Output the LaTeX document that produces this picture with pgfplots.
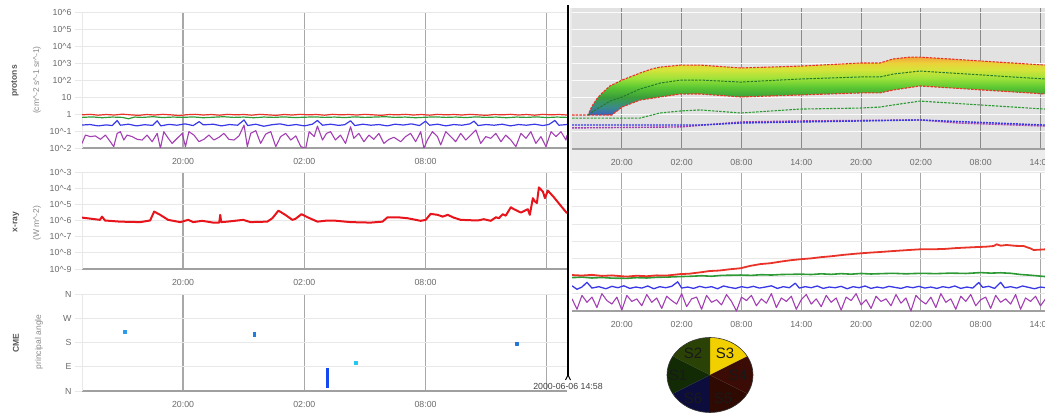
\documentclass[border=0pt]{standalone}
\usepackage{pgfplots}
\pgfplotsset{compat=1.18}
\usepackage{fontspec}
\setmainfont{Liberation Sans}
\definecolor{tickgray}{HTML}{6A6A6A}
\definecolor{titlegray}{HTML}{555555}
\definecolor{unitgray}{HTML}{8A8A8A}
\definecolor{axgray}{HTML}{A0A0A0}
\definecolor{vgrid}{HTML}{A8A8A8}
\definecolor{vgriddark}{HTML}{8A8A8A}
\definecolor{gridlight}{HTML}{E8E8E8}
\definecolor{bgouter}{HTML}{ECECEC}
\definecolor{bgplot}{HTML}{E2E2E2}
\definecolor{pred}{HTML}{EA3328}
\definecolor{pgreen}{HTML}{2E9A35}
\definecolor{pblue}{HTML}{3838E6}
\definecolor{ppurple}{HTML}{A23FB2}
\definecolor{xred}{HTML}{E8141C}
\definecolor{cmeA}{HTML}{2A9BEA}
\definecolor{cmeB}{HTML}{1E7FE0}
\definecolor{cmeC}{HTML}{1448F0}
\definecolor{cmeD}{HTML}{22C8F0}
\definecolor{cmeE}{HTML}{2378D2}
\definecolor{fc1}{HTML}{3A5FC0}
\definecolor{fc2}{HTML}{3A8A8A}
\definecolor{fc3}{HTML}{3A9E3A}
\definecolor{fc4}{HTML}{5CC832}
\definecolor{fc5}{HTML}{9EE23A}
\definecolor{fc6}{HTML}{D4E43A}
\definecolor{fc7}{HTML}{ECD23A}
\definecolor{fc8}{HTML}{F2A43A}
\definecolor{pieS1}{HTML}{122B05}
\definecolor{pieS2}{HTML}{2B4207}
\definecolor{pieS3}{HTML}{F2D000}
\definecolor{pieS4}{HTML}{3B0B05}
\definecolor{pieS5}{HTML}{2E0A02}
\definecolor{pieS6}{HTML}{0D0D3D}
\pgfdeclareverticalshading{protflux}{100bp}{color(0bp)=(fc1); color(25bp)=(fc1); color(31.7bp)=(fc2); color(40.5bp)=(fc3); color(49.3bp)=(fc4); color(56.7bp)=(fc5); color(64bp)=(fc6); color(69.9bp)=(fc7); color(75bp)=(fc8); color(100bp)=(fc8)}
\pgfplotsset{
  dash/.style={
    scale only axis,
    axis x line*=bottom, axis y line*=left,
    x axis line style={-, draw=axgray, line width=1.2pt},
    y axis line style={-, draw=gridlight},
    xmajorgrids, ymajorgrids,
    x grid style={draw=vgrid, line width=1.1pt},
    y grid style={draw=gridlight, line width=0.8pt},
    tick align=outside,
    xtick style={draw=none},
    ytick style={draw=gridlight, line width=0.8pt},
    major tick length=7pt,
    tick label style={font=\fontsize{8.8}{10}\selectfont, text=tickgray},
    every axis plot/.append style={line join=round},
  },
  leftx/.style={xmin=0, xmax=24, width=485pt, xtick={5,11,17,23}, xticklabels={20:00,02:00,08:00,{}}},
  rightx/.style={xmin=0, xmax=47.45, width=473pt, xtick={5,11,17,23,29,35,41,47},
    xticklabels={20:00,02:00,08:00,14:00,20:00,02:00,08:00,14:00},
    ytick={-2,...,6}, yticklabels={}, ytick style={draw=none}, y axis line style={draw=none}},
}
\newcommand{\cc}{\textasciicircum}
\begin{document}
\begin{tikzpicture}
\useasboundingbox (0,0) rectangle (1045pt,413pt);
\fill[bgouter] (570pt,242pt) rectangle (1045pt,405pt);

% ---------------- protons (left)
\begin{axis}[dash, leftx, at={(82pt,265pt)}, anchor=south west, height=136pt,
  ymin=-2, ymax=6, ytick={-2,...,6},
  yticklabels={10\cc-2,10\cc-1,1,10,10\cc2,10\cc3,10\cc4,10\cc5,10\cc6}]
\addplot[pred, line width=1.2pt] coordinates {(0,-0.05)(0.4,-0.02)(0.8,-0.07)(1.2,-0.03)(1.6,-0.06)(2,-0.01)(2.4,-0.05)(2.8,-0.08)(3.2,-0.03)(3.6,-0.06)(4,-0.02)(4.4,-0.05)(4.8,-0.09)(5.2,-0.04)(5.6,-0.02)(6,-0.06)(6.4,-0.03)(6.8,-0.07)(7.2,-0.02)(7.6,-0.05)(8,-0.03)(8.4,-0.07)(8.8,-0.02)(9.2,-0.05)(9.6,-0.08)(10,-0.03)(10.4,-0.06)(10.8,-0.02)(11.2,-0.05)(11.6,-0.03)(12,-0.07)(12.4,-0.02)(12.8,-0.05)(13.2,-0.03)(13.6,-0.06)(14,-0.02)(14.4,-0.05)(14.8,-0.08)(15.2,-0.03)(15.6,-0.05)(16,-0.02)(16.4,-0.06)(16.8,-0.03)(17.2,-0.07)(17.6,-0.02)(18,-0.05)(18.4,-0.03)(18.8,-0.06)(19.2,-0.02)(19.6,-0.05)(20,-0.08)(20.4,-0.03)(20.8,-0.05)(21.2,-0.02)(21.6,-0.06)(22,-0.03)(22.4,-0.07)(22.8,-0.02)(23.2,-0.05)(23.6,-0.03)(24,-0.06)};
\addplot[pgreen, line width=1.2pt] coordinates {(0,-0.2)(0.5,-0.17)(1,-0.22)(1.5,-0.18)(2,-0.2)(2.3,-0.28)(2.6,-0.18)(3,-0.2)(3.5,-0.16)(4,-0.21)(4.5,-0.18)(5,-0.2)(5.5,-0.17)(6,-0.22)(6.5,-0.19)(7,-0.16)(7.5,-0.2)(8,-0.18)(8.5,-0.22)(9,-0.18)(9.5,-0.2)(10,-0.17)(10.5,-0.21)(11,-0.19)(11.5,-0.17)(12,-0.2)(12.5,-0.18)(13,-0.21)(13.5,-0.17)(14,-0.2)(14.5,-0.18)(15,-0.16)(15.5,-0.2)(16,-0.18)(16.5,-0.22)(17,-0.19)(17.5,-0.17)(18,-0.2)(18.5,-0.18)(19,-0.21)(19.5,-0.17)(20,-0.2)(20.5,-0.18)(21,-0.22)(21.5,-0.18)(22,-0.2)(22.5,-0.17)(23,-0.21)(23.5,-0.18)(24,-0.2)};
\addplot[pblue, line width=1.2pt] coordinates {(0,-0.65)(0.4,-0.62)(0.8,-0.7)(1.2,-0.64)(1.5,-0.68)(1.74,-0.38)(1.9,-0.66)(2.3,-0.6)(2.7,-0.7)(3.1,-0.63)(3.5,-0.67)(3.72,-0.4)(3.9,-0.7)(4.3,-0.61)(4.7,-0.66)(5.1,-0.58)(5.5,-0.68)(5.8,-0.45)(6.0,-0.64)(6.5,-0.6)(6.9,-0.7)(7.3,-0.62)(7.7,-0.66)(8.02,-0.35)(8.2,-0.68)(8.6,-0.6)(9.0,-0.72)(9.4,-0.63)(9.8,-0.58)(10.2,-0.68)(10.6,-0.62)(11.0,-0.7)(11.4,-0.6)(11.65,-0.38)(11.9,-0.66)(12.3,-0.6)(12.7,-0.67)(13.0,-0.63)(13.29,-0.4)(13.5,-0.68)(13.9,-0.6)(14.3,-0.66)(14.7,-0.62)(15.1,-0.7)(15.5,-0.6)(15.9,-0.65)(16.3,-0.58)(16.7,-0.68)(17.0,-0.42)(17.2,-0.66)(17.6,-0.6)(18.0,-0.7)(18.4,-0.62)(18.8,-0.66)(19.2,-0.58)(19.4,-0.42)(19.6,-0.68)(20.0,-0.62)(20.4,-0.66)(20.8,-0.6)(21.2,-0.7)(21.6,-0.62)(22.0,-0.66)(22.4,-0.6)(22.8,-0.68)(23.1,-0.62)(23.4,-0.38)(23.6,-0.66)(24,-0.62)};
\addplot[ppurple, line width=1.1pt] coordinates {(0,-1.73)(0.17,-1.24)(0.41,-1.33)(0.66,-1.29)(0.91,-1.49)(1.16,-1.24)(1.40,-1.63)(1.57,-1.92)(1.74,-1.14)(1.90,-1.04)(2.07,-1.53)(2.23,-1.24)(2.48,-1.33)(2.73,-1.49)(2.98,-1.53)(3.22,-1.24)(3.47,-1.63)(3.72,-1.14)(3.88,-2.02)(4.05,-1.04)(4.21,-1.33)(4.46,-1.73)(4.71,-1.43)(4.96,-1.14)(5.12,-1.92)(5.29,-1.04)(5.54,-1.24)(5.79,-1.63)(6.03,-1.49)(6.28,-1.24)(6.53,-1.53)(6.78,-1.37)(7.02,-1.14)(7.27,-1.49)(7.52,-1.53)(7.77,-1.29)(8.02,-0.65)(8.18,-1.92)(8.35,-1.14)(8.60,-0.98)(8.84,-1.73)(9.09,-1.18)(9.34,-1.04)(9.59,-1.92)(9.83,-1.33)(10.08,-1.14)(10.33,-1.53)(10.58,-1.29)(10.83,-1.92)(11.07,-2.02)(11.24,-1.04)(11.49,-1.33)(11.65,-0.71)(11.90,-1.53)(12.10,-1.14)(12.30,-1.04)(12.54,-1.53)(12.79,-1.24)(13.04,-1.73)(13.29,-0.75)(13.45,-1.43)(13.70,-1.14)(13.95,-1.63)(14.20,-1.24)(14.44,-1.49)(14.69,-1.14)(14.94,-1.73)(15.19,-1.49)(15.44,-1.37)(15.77,-1.63)(16.01,-1.33)(16.26,-1.14)(16.51,-1.63)(16.76,-1.04)(16.92,-2.02)(17.09,-1.53)(17.34,-1.04)(17.59,-1.33)(17.75,-1.82)(18.00,-1.04)(18.25,-1.33)(18.49,-1.63)(18.74,-1.14)(18.99,-1.53)(19.24,-1.24)(19.49,-0.94)(19.73,-1.73)(19.98,-1.33)(20.23,-1.43)(20.48,-1.14)(20.73,-1.63)(20.97,-1.24)(21.22,-1.53)(21.47,-1.92)(21.72,-1.14)(21.97,-1.43)(22.21,-1.04)(22.46,-1.73)(22.71,-1.33)(22.96,-1.92)(23.21,-1.04)(23.45,-1.33)(23.70,-1.04)(23.95,-1.53)(24,-1.24)};
\end{axis}

% ---------------- x-ray (left)
\begin{axis}[dash, leftx, at={(82pt,144pt)}, anchor=south west, height=97pt,
  ymin=-9, ymax=-3, ytick={-9,...,-3},
  yticklabels={10\cc-9,10\cc-8,10\cc-7,10\cc-6,10\cc-5,10\cc-4,10\cc-3}]
\addplot[xred, line width=2pt] coordinates {(0,-5.82)(0.89,-5.96)(0.99,-5.76)(1.14,-6.0)(1.88,-6.07)(2.88,-6.1)(3.37,-6.0)(3.57,-5.45)(3.87,-5.65)(4.26,-5.96)(4.86,-6.1)(5.26,-5.96)(5.5,-6.1)(5.95,-6.02)(6.49,-6.13)(6.79,-6.13)(6.84,-5.65)(6.89,-6.1)(7.19,-6.07)(7.98,-5.96)(8.33,-6.1)(9.17,-6.07)(9.42,-5.86)(9.72,-5.39)(10.06,-5.65)(10.41,-5.96)(10.56,-5.9)(10.86,-5.61)(11.16,-5.8)(11.65,-6.07)(12.15,-6.0)(12.44,-6.0)(13.29,-6.1)(14.28,-6.13)(14.87,-6.07)(15.12,-5.8)(15.62,-5.8)(16.11,-5.86)(16.76,-6.02)(17.01,-5.96)(17.25,-5.59)(17.6,-5.65)(17.85,-5.76)(18.1,-5.65)(18.39,-5.82)(18.74,-5.96)(19.58,-6.0)(19.88,-5.92)(20.23,-6.02)(20.48,-5.8)(20.63,-5.86)(20.82,-5.61)(20.97,-5.7)(21.22,-5.18)(21.37,-5.3)(21.72,-5.51)(22.06,-5.3)(22.16,-5.65)(22.31,-4.62)(22.41,-4.82)(22.51,-4.92)(22.61,-3.95)(22.81,-4.22)(22.91,-4.62)(23.05,-4.15)(23.35,-4.56)(23.7,-5.1)(24.0,-5.55)};
\end{axis}

% ---------------- CME (left)
\begin{axis}[dash, leftx, at={(82pt,22pt)}, anchor=south west, height=97pt,
  ymin=0, ymax=360, ytick={0,90,180,270,360}, yticklabels={N,E,S,W,N}]
\addplot[only marks, mark=square*, mark size=1.5pt, color=cmeA] coordinates {(2.13,219)};
\addplot[cmeB, line width=3pt] coordinates {(8.53,200)(8.53,220)};
\addplot[cmeC, line width=3.2pt] coordinates {(12.13,12)(12.13,84)};
\addplot[only marks, mark=square*, mark size=1.3pt, color=cmeD] coordinates {(13.53,105)};
\addplot[only marks, mark=square*, mark size=1.5pt, color=cmeE] coordinates {(21.5,177)};
\end{axis}

% ---------------- forecast (right top)
\begin{axis}[dash, rightx, at={(572pt,264pt)}, anchor=south west, height=141pt,
  ymin=-2.06, ymax=6.24, axis background/.style={fill=bgplot},
  x grid style={draw=vgriddark, line width=1.1pt},
  y grid style={draw=white!85!bgplot, line width=0.8pt}]
\addplot[draw=none, shade, shading=protflux] coordinates {(1.6,-0.06)(2.0,0.45)(2.5,0.9)(3.0,1.22)(3.81,1.65)(5.02,2.0)(6.0,2.22)(6.82,2.41)(8.0,2.65)(8.83,2.76)(10.93,2.88)(12.84,2.88)(16.95,2.71)(22.87,2.82)(28.89,3.0)(30.89,3.0)(32.2,3.24)(33.9,3.35)(34.9,3.35)(47.44,2.88)
 (47.44,1.18)(34.9,1.65)(32.2,1.41)(30.89,1.24)(28.89,1.24)(22.87,1.12)(16.95,1.0)(12.84,1.18)(10.93,1.18)(8.83,1.0)(6.82,0.82)(5.02,0.41)(4.0,-0.06)(1.6,-0.06)} -- cycle;
\addplot[pred, line width=1.1pt, dash pattern=on 2.5pt off 1.2pt] coordinates {(0,-0.06)(1.6,-0.06)(2.0,0.45)(2.5,0.9)(3.0,1.22)(3.81,1.65)(5.02,2.0)(6.0,2.22)(6.82,2.41)(8.0,2.65)(8.83,2.76)(10.93,2.88)(12.84,2.88)(16.95,2.71)(22.87,2.82)(28.89,3.0)(30.89,3.0)(32.2,3.24)(33.9,3.35)(34.9,3.35)(47.44,2.88)};
\addplot[pred, line width=1.1pt, dash pattern=on 2.5pt off 1.2pt] coordinates {(1.6,-0.06)(4.0,-0.06)(5.02,0.41)(6.82,0.82)(8.83,1.0)(10.93,1.18)(12.84,1.18)(16.95,1.0)(22.87,1.12)(28.89,1.24)(30.89,1.24)(32.2,1.41)(34.9,1.65)(47.44,1.18)};
\addplot[pgreen!80!black, line width=1pt, dash pattern=on 2.5pt off 1.2pt] coordinates {(1.6,-0.06)(2.5,0.3)(3.0,0.47)(3.81,0.76)(5.02,1.0)(6.82,1.47)(8.83,1.82)(10.93,2.0)(12.84,2.0)(16.95,1.88)(22.87,2.06)(28.89,2.18)(30.89,2.18)(32.2,2.35)(34.9,2.53)(47.44,2.06)};
\addplot[pgreen, line width=1.1pt, dash pattern=on 2.5pt off 1.2pt] coordinates {(0,-0.24)(6.82,-0.24)(8.83,0.06)(10.93,0.18)(12.84,0.24)(16.95,0.06)(22.87,0.29)(28.89,0.35)(30.89,0.41)(32.2,0.53)(34.9,0.76)(47.44,0.29)};
\addplot[ppurple, line width=1.4pt, dash pattern=on 2pt off 1pt] coordinates {(0,-0.82)(10.93,-0.76)(16.95,-0.47)(22.87,-0.41)(34.9,-0.35)(38.8,-0.53)(47.44,-0.71)};
\addplot[pblue, line width=1.4pt, dash pattern=on 2pt off 1pt] coordinates {(0,-0.65)(12.84,-0.65)(16.95,-0.53)(22.87,-0.47)(34.9,-0.35)(47.44,-0.65)};
\end{axis}

% ---------------- protons continued (right bottom)
\begin{axis}[dash, rightx, at={(572pt,102pt)}, anchor=south west, height=139pt,
  ymin=-2, ymax=6]
\addplot[ppurple, line width=1.1pt] coordinates {(0,-1.3)(0.5,-1.9)(1,-1.1)(1.5,-1.5)(2,-1.2)(2.5,-1.8)(3,-1.0)(3.5,-1.4)(4,-1.6)(4.5,-1.2)(5,-1.95)(5.5,-1.1)(6,-1.45)(6.5,-1.3)(7,-1.7)(7.5,-1.05)(8,-1.5)(8.5,-1.25)(9,-1.85)(9.5,-1.15)(10,-1.4)(10.5,-1.6)(11,-1.0)(11.5,-1.75)(12,-1.3)(12.5,-1.2)(13,-1.9)(13.5,-1.1)(14,-1.5)(14.5,-1.35)(15,-1.65)(15.5,-1.05)(16,-1.45)(16.5,-2.0)(17,-1.2)(17.5,-1.4)(18,-1.1)(18.5,-1.7)(19,-1.3)(19.5,-1.55)(20,-1.0)(20.5,-1.8)(21,-1.25)(21.5,-1.45)(22,-1.15)(22.5,-1.9)(23,-1.35)(23.5,-1.05)(24,-1.6)(24.5,-1.3)(25,-1.75)(25.5,-1.1)(26,-1.5)(26.5,-1.25)(27,-1.95)(27.5,-1.2)(28,-1.4)(28.5,-1.0)(29,-1.65)(29.5,-1.35)(30,-1.85)(30.5,-1.15)(31,-1.45)(31.5,-1.3)(32,-1.7)(32.5,-1.05)(33,-1.55)(33.5,-1.25)(34,-2.0)(34.5,-1.1)(35,-1.4)(35.5,-1.6)(36,-1.2)(36.5,-1.8)(37,-1.0)(37.5,-1.5)(38,-1.3)(38.5,-1.9)(39,-1.15)(39.5,-1.45)(40,-1.05)(40.5,-1.7)(41,-1.35)(41.5,-1.2)(42,-1.85)(42.5,-1.1)(43,-1.5)(43.5,-1.3)(44,-1.6)(44.5,-1.05)(45,-1.9)(45.5,-1.25)(46,-1.45)(46.5,-1.15)(47,-1.7)(47.5,-1.3)};
\addplot[pblue, line width=1.3pt] coordinates {(0,-0.55)(0.5,-0.75)(1,-0.62)(1.5,-0.35)(2,-0.68)(2.7,-0.6)(3.4,-0.72)(4,-0.58)(4.6,-0.66)(5.2,-0.55)(5.8,-0.7)(6.4,-0.62)(7,-0.68)(7.6,-0.56)(8.2,-0.72)(8.8,-0.6)(9.4,-0.66)(10,-0.58)(10.6,-0.32)(11.0,-0.68)(11.6,-0.62)(12.2,-0.7)(12.8,-0.58)(13.4,-0.66)(14,-0.6)(14.6,-0.72)(15.2,-0.56)(15.8,-0.64)(16.4,-0.7)(17,-0.6)(17.6,-0.66)(18.2,-0.58)(18.8,-0.68)(19.4,-0.62)(20,-0.55)(20.6,-0.7)(21.2,-0.6)(21.8,-0.66)(22.4,-0.4)(22.8,-0.68)(23.4,-0.6)(24,-0.66)(24.6,-0.56)(25.2,-0.7)(25.8,-0.62)(26.4,-0.66)(27,-0.58)(27.6,-0.72)(28.2,-0.6)(28.8,-0.66)(29.4,-0.56)(30,-0.7)(30.6,-0.62)(31.2,-0.68)(31.8,-0.58)(32.4,-0.64)(33,-0.7)(33.6,-0.6)(34.2,-0.66)(34.8,-0.58)(35.4,-0.68)(36,-0.62)(36.6,-0.7)(37.2,-0.6)(37.8,-0.66)(38.4,-0.56)(39,-0.7)(39.6,-0.62)(40.2,-0.68)(40.8,-0.36)(41.2,-0.64)(41.8,-0.58)(42.4,-0.7)(43,-0.35)(43.4,-0.66)(44,-0.6)(44.6,-0.68)(45.2,-0.56)(45.8,-0.64)(46.4,-0.72)(47,-0.62)(47.5,-0.66)};
\addplot[pgreen, line width=1.6pt] coordinates {(0,-0.08)(1,-0.05)(2,-0.1)(3,-0.07)(4,-0.11)(5.5,-0.12)(6.5,-0.08)(7.5,-0.1)(8.5,-0.06)(9.5,-0.05)(10.8,-0.02)(12,0.0)(13,0.03)(14,0.0)(15,0.05)(16.9,0.07)(18,0.05)(19,0.09)(20,0.07)(21,0.1)(22.9,0.12)(24,0.1)(25,0.14)(26,0.11)(27,0.15)(28,0.12)(29,0.16)(30,0.13)(31,0.15)(32.2,0.17)(33.5,0.14)(35,0.17)(36.5,0.15)(38,0.18)(39.5,0.16)(41,0.21)(42,0.18)(43,0.2)(44,0.17)(45,0.1)(46,0.06)(47.5,-0.02)};
\addplot[pred, line width=1.8pt] coordinates {(0,0.07)(1,0.04)(2,0.08)(3,0.02)(4,0.05)(5,0.0)(5.5,-0.02)(6.5,0.03)(7.5,0.0)(8.5,0.05)(9.5,0.04)(10.8,0.12)(11.8,0.15)(12.8,0.22)(13.8,0.3)(14.8,0.33)(15.8,0.4)(16.9,0.46)(17.9,0.6)(18.9,0.7)(19.9,0.75)(20.9,0.84)(21.9,0.92)(22.9,0.98)(24,1.03)(25,1.1)(26,1.15)(27.2,1.23)(28.5,1.3)(29.9,1.36)(31,1.4)(32.2,1.45)(33.5,1.5)(34.9,1.55)(36,1.55)(37.3,1.57)(38.5,1.62)(39.5,1.65)(40.6,1.68)(41.5,1.7)(42.3,1.74)(42.6,1.84)(43.0,1.76)(43.6,1.8)(44.5,1.75)(45.3,1.74)(46.0,1.6)(46.3,1.51)(47.5,1.55)};
\end{axis}

% ---------------- titles
\node[rotate=90, font=\fontsize{8.5}{10}\selectfont\bfseries, text=titlegray] at (15pt,332pt) {protons};
\node[rotate=90, font=\fontsize{8.5}{10}\selectfont, text=unitgray] at (37pt,333pt) {(cm\cc-2 s\cc-1 sr\cc-1)};
\node[rotate=90, font=\fontsize{8.5}{10}\selectfont\bfseries, text=titlegray] at (16pt,191pt) {x-ray};
\node[rotate=90, font=\fontsize{8.5}{10}\selectfont, text=unitgray] at (37pt,190pt) {(W m\cc-2)};
\node[rotate=90, font=\fontsize{8.5}{10}\selectfont\bfseries, text=titlegray] at (16pt,70pt) {CME};
\node[rotate=90, font=\fontsize{8.5}{10}\selectfont, text=unitgray] at (39pt,71pt) {principal angle};

% ---------------- cursor
\draw[black, line width=1.6pt] (568pt,408pt) -- (568pt,37pt);
\draw[black, line width=1pt] (565.5pt,33pt) -- (568pt,38pt) -- (570.5pt,33pt);
\node[font=\fontsize{8.8}{10}\selectfont, text=black!75] at (568pt,27pt) {2000-06-06 14:58};

% ---------------- pie
\begin{scope}[shift={(710pt,38pt)}]
\fill[pieS3] (0,0) -- (30:43pt and 37.5pt) arc[start angle=30, end angle=90, x radius=43pt, y radius=37.5pt] -- cycle;
\fill[pieS2] (0,0) -- (90:43pt and 37.5pt) arc[start angle=90, end angle=150, x radius=43pt, y radius=37.5pt] -- cycle;
\fill[pieS1] (0,0) -- (150:43pt and 37.5pt) arc[start angle=150, end angle=210, x radius=43pt, y radius=37.5pt] -- cycle;
\fill[pieS6] (0,0) -- (210:43pt and 37.5pt) arc[start angle=210, end angle=270, x radius=43pt, y radius=37.5pt] -- cycle;
\fill[pieS5] (0,0) -- (270:43pt and 37.5pt) arc[start angle=270, end angle=330, x radius=43pt, y radius=37.5pt] -- cycle;
\fill[pieS4] (0,0) -- (330:43pt and 37.5pt) arc[start angle=330, end angle=390, x radius=43pt, y radius=37.5pt] -- cycle;
\draw[black!80, line width=0.6pt] (0,0) ellipse [x radius=43pt, y radius=37.5pt];
\begin{scope}[font=\fontsize{15}{16}\selectfont, text=black!90]
\node at (-17pt,22pt) {S2};
\node at (15pt,22pt) {S3};
\node at (-32pt,0pt) {S1};
\node at (28pt,0pt) {S4};
\node at (-17pt,-23pt) {S6};
\node at (13pt,-23pt) {S5};
\end{scope}
\end{scope}
\end{tikzpicture}
\end{document}
